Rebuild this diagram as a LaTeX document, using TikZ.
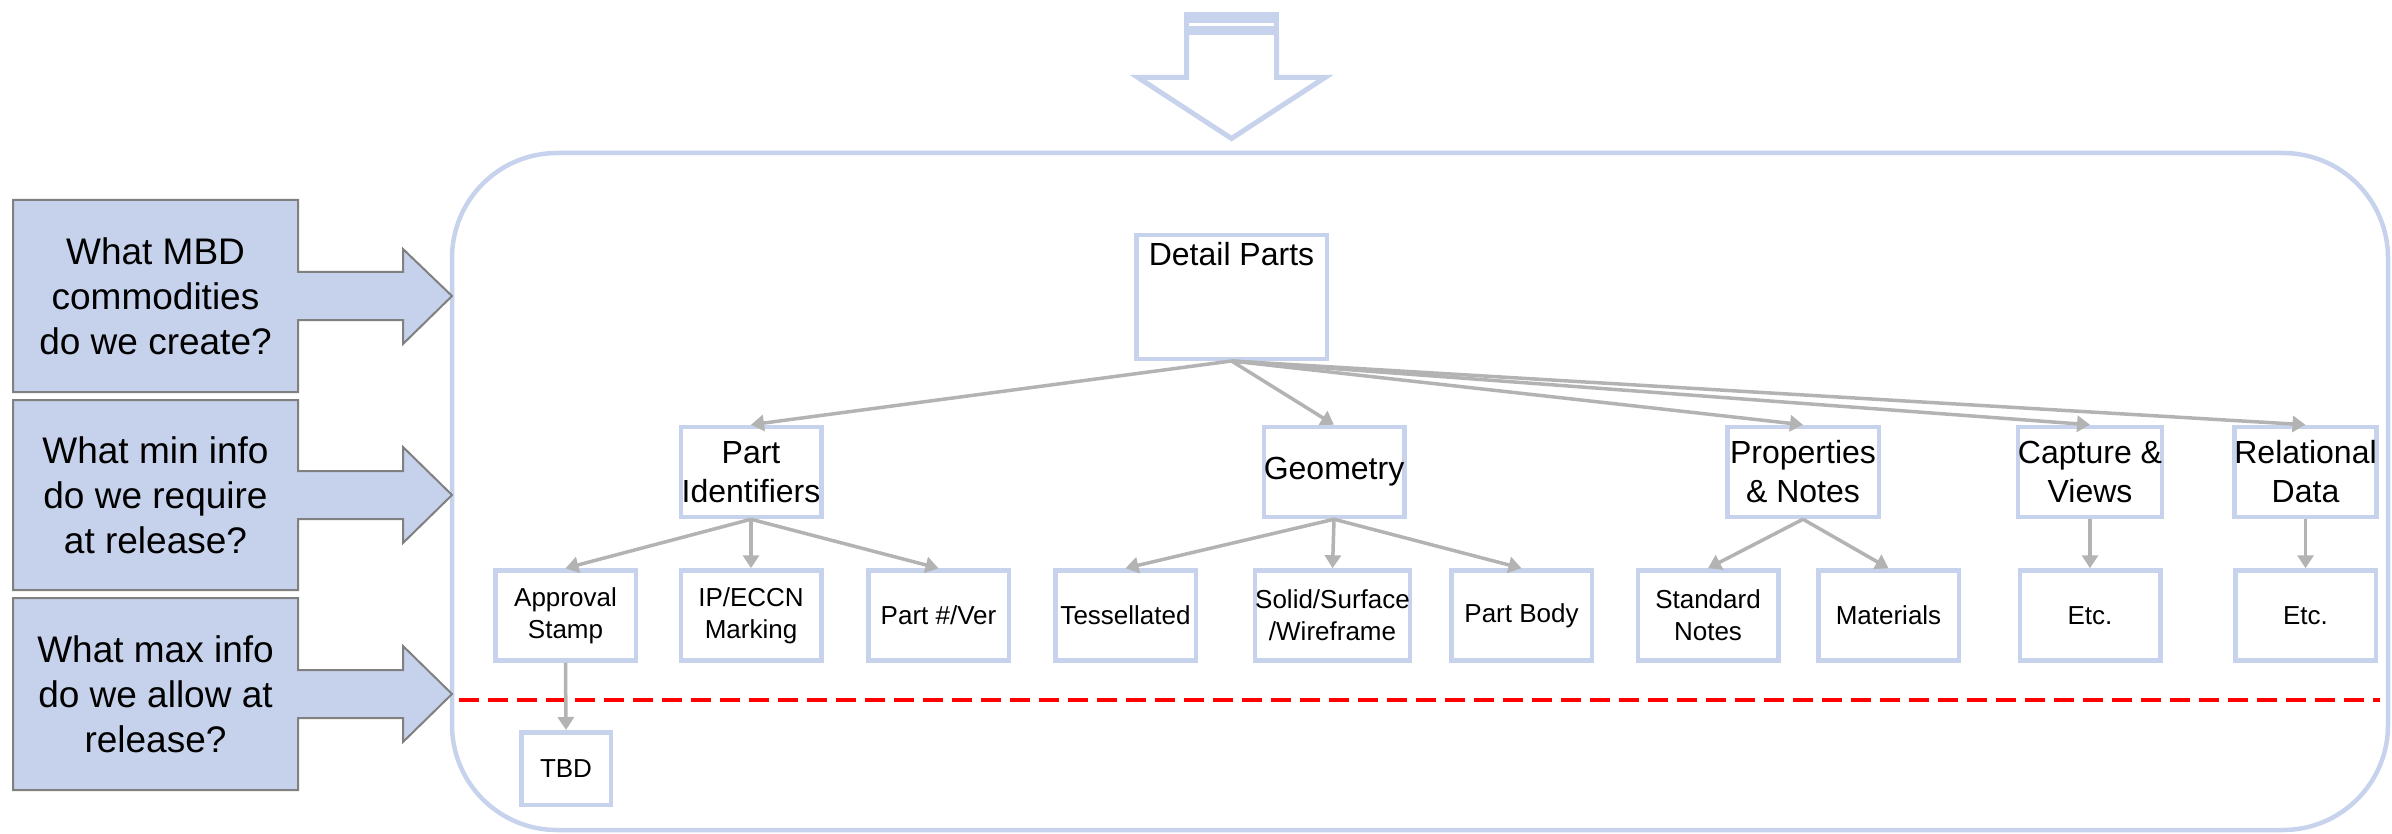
\documentclass[tikz,border=0pt]{standalone}
\usepackage{fontspec}
\setmainfont{Liberation Sans}
\usetikzlibrary{arrows.meta}
\definecolor{frameblue}{HTML}{C7D3EC}
\definecolor{qfill}{HTML}{C6D2EB}
\definecolor{qedge}{HTML}{808080}
\definecolor{linkgray}{HTML}{B3B3B3}
\definecolor{cutred}{HTML}{FF0000}
\begin{document}
\begin{tikzpicture}[x=0.5pt,y=-0.5pt,
  treebox/.style={draw=frameblue, line width=2.25pt, fill=white, align=center,
    inner sep=0pt, minimum width=70.25pt, minimum height=45pt},
  lvlone/.style={treebox, font=\fontsize{16}{19.5}\selectfont},
  lvltwo/.style={treebox, font=\fontsize{13}{15.8}\selectfont},
  link/.style={draw=linkgray, line width=1.75pt, -{Triangle[length=6.5pt,width=8pt]}},
  question/.style={fill=qfill, draw=qedge, line width=1pt, line join=miter},
  qtext/.style={align=center, font=\fontsize{18.5}{22.5}\selectfont, inner sep=0pt},
]
\path[use as bounding box] (0,0) rectangle (2392,834);

% outer frame
\draw[frameblue, line width=2.25pt, rounded corners=52.5pt] (452,153) rectangle (2388,830);

% downward outline arrow on top
\fill[frameblue] (1184,12) rectangle (1279,35);
\draw[white, line width=1.5pt] (1189,25) -- (1274,25);
\draw[frameblue, line width=2.5pt, line join=miter]
  (1186.5,35) -- (1186.5,77.5) -- (1138,77.5) -- (1231.5,138.5)
  -- (1325,77.5) -- (1276.5,77.5) -- (1276.5,35);

% release boundary
\draw[cutred, line width=1.75pt, dash pattern=on 10pt off 4.5pt] (459,700) -- (2380,700);

% question callouts
\draw[question] (13,200) -- (298,200) -- (298,272) -- (403,272) -- (403,249) -- (452,296)
  -- (403,344) -- (403,320) -- (298,320) -- (298,392) -- (13,392) -- cycle;
\draw[question] (13,400) -- (298,400) -- (298,471) -- (403,471) -- (403,447) -- (452,495)
  -- (403,543) -- (403,519) -- (298,519) -- (298,590) -- (13,590) -- cycle;
\draw[question] (13,598) -- (298,598) -- (298,670) -- (403,670) -- (403,646) -- (452,694)
  -- (403,742) -- (403,718) -- (298,718) -- (298,790) -- (13,790) -- cycle;
\node[qtext] (q1) at (155.5,296) {What MBD\\commodities\\do we create?};
\node[qtext] (q2) at (155.5,495) {What min info\\do we require\\at release?};
\node[qtext] (q3) at (155.5,694) {What max info\\do we allow at\\release?};

% root
\node[treebox, minimum width=95.25pt, minimum height=61.75pt,
  label={[anchor=north, inner sep=0pt, yshift=-4.5pt, font=\fontsize{16}{19.5}\selectfont]north:Detail Parts}]
  (dp) at (1231.5,297) {};

% first level
\node[lvlone] (pi)   at (751,472)    {Part\\Identifiers};
\node[lvlone] (geo)  at (1334,472)   {Geometry};
\node[lvlone, minimum width=75.75pt] (prop) at (1803,472) {Properties\\\& Notes};
\node[lvlone] (cap)  at (2090,472)   {Capture \&\\Views};
\node[lvlone] (rel)  at (2305.5,472) {Relational\\Data};

% second level
\node[lvltwo] (appr) at (565.5,615.5)  {Approval\\Stamp};
\node[lvltwo] (ip)   at (751,615.5)    {IP/ECCN\\Marking};
\node[lvltwo] (pnv)  at (938.5,615.5)  {Part \#/Ver};
\node[lvltwo] (tess) at (1125.5,615.5) {Tessellated};
\node[lvltwo, minimum width=77.25pt] (solid) at (1332.5,615.5) {Solid/Surface\\/Wireframe};
\node[lvltwo] (body) at (1521.5,615.5) {Part Body};
\node[lvltwo] (std)  at (1708,615.5)   {Standard\\Notes};
\node[lvltwo] (mat)  at (1888.5,615.5) {Materials};
\node[lvltwo] (etca) at (2090,615.5)   {Etc.};
\node[lvltwo] (etcb) at (2305.5,615.5) {Etc.};

% below the release line
\node[lvltwo, minimum width=44.75pt, minimum height=36.25pt] (tbd) at (566,768.5) {TBD};

% connectors
\foreach \t in {pi,geo,prop,cap,rel} \draw[link] (dp.south) -- (\t.north);
\foreach \t in {appr,ip,pnv} \draw[link] (pi.south) -- (\t.north);
\foreach \t in {tess,solid,body} \draw[link] (geo.south) -- (\t.north);
\foreach \t in {std,mat} \draw[link] (prop.south) -- (\t.north);
\draw[link] (cap.south) -- (etca.north);
\draw[link] (rel.south) -- (etcb.north);
\draw[link] (appr.south) -- (tbd.north);
\end{tikzpicture}
\end{document}
